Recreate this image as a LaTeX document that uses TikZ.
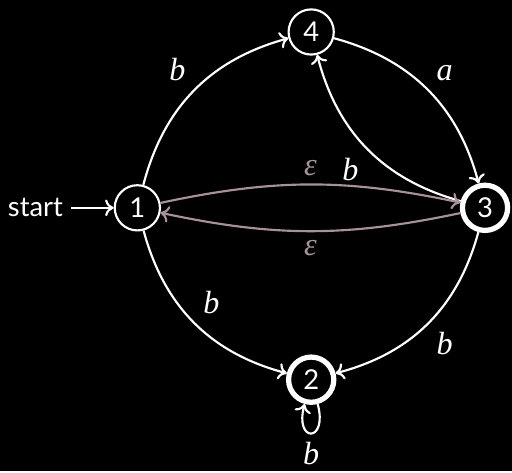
\documentclass[tikz,border=0pt]{standalone}
\usepackage{fontspec}
\setmainfont{Lato}
\newfontfamily\lblfont{Liberation Serif}
\usetikzlibrary{arrows.meta}
\definecolor{epsgray}{RGB}{168,146,154}
\begin{document}
\begin{tikzpicture}[x=0.42pt,y=-0.42pt,>={To[length=3.6pt,width=7pt]},
	  every node/.style={text=white,font=\fontsize{11.5}{13}\selectfont},
	  state/.style={circle,draw=white,line width=0.9pt,minimum size=19pt,inner sep=0pt},
	  accept/.style={state,line width=2.2pt},
	  lbl/.style={font=\fontsize{13.5}{15}\lblfont\itshape},
	  every edge/.style={draw=white,line width=0.9pt},
	  epsedge/.style={draw=epsgray}]
	  \fill[black] (0,0) rectangle (512,471);
	  \node[state] (q1) at (137,208) {1};
	  \node[state] (q4) at (311,32) {4};
	  \node[accept] (q3) at (485,208) {3};
	  \node[accept] (q2) at (311,380) {2};
	  \node (start) at (35,208) {start};
	  \draw[->,white,line width=0.9pt] (start) -- (q1);
	  \path[->,auto]
	    (q1) edge[bend left=30] node[lbl] {b} (q4)
	    (q4) edge[bend left=30] node[lbl] {a} (q3)
	    (q3) edge[bend left=30] node[lbl,pos=0.5] {b} (q4)
	    (q1) edge[bend left=12,epsedge] node[lbl,text=epsgray] {ε} (q3)
	    (q3) edge[bend left=12,epsedge] node[lbl,text=epsgray] {ε} (q1)
	    (q1) edge[bend right=30] node[lbl] {b} (q2)
	    (q3) edge[bend left=30] node[lbl] {b} (q2)
	    (q2) edge[loop,out=-75,in=-105,min distance=17pt] node[lbl,below] {b} (q2);
	\end{tikzpicture}
\end{document}
